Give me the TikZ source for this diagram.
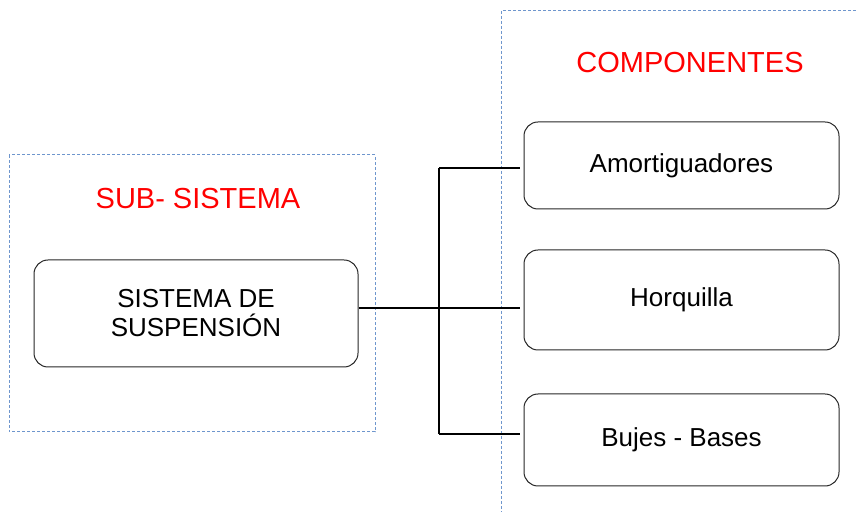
\documentclass[tikz,border=0pt]{standalone}
\usepackage{fontspec}
\setmainfont{Liberation Sans}
\usetikzlibrary{positioning}
\definecolor{framebl}{RGB}{110,150,205}
\definecolor{titlered}{RGB}{255,0,0}

\begin{document}
\begin{tikzpicture}[x=0.5pt, y=-0.5pt,
  box/.style={draw=black!85, rounded corners=7pt, minimum width=157.5pt, line width=0.5pt, align=center, font=\fontsize{13}{14.5}\selectfont},
  frame/.style={draw=framebl, line width=0.5pt, dash pattern=on 1.5pt off 1pt},
  title/.style={text=titlered, font=\fontsize{14.5}{17}\selectfont},
  conn/.style={line width=1pt}
]
\useasboundingbox (0,0) rectangle (856,512);
% dotted frames
\draw[frame] (9,155) rectangle (375,432);
\draw[frame] (856,11) -- (501,11) -- (501,512);
\node[title] (subtitle) at (198,199) {SUB- SISTEMA};
\node[title] (comptitle) at (690,63) {COMPONENTES};
% boxes
\node[box, minimum width=162pt, minimum height=53.5pt] (susp) at (196,313.5) {SISTEMA DE\\SUSPENSIÓN};
\node[box, minimum height=43.5pt] (amort) at (681.5,165.5) {Amortiguadores};
\node[box, minimum height=50pt, below=20pt of amort] (horq) {Horquilla};
\node[box, minimum height=46pt, below=21.5pt of horq] (bujes) {Bujes - Bases};
% connectors
\coordinate (split) at (439,308);
\draw[conn] (susp.east |- split) -- (split);
\draw[conn] ([yshift=-1.2pt]split |- amort.west) -- ([yshift=3pt]split |- bujes.west);
\draw[conn] ([yshift=-1.2pt]split |- amort.west) -- ([xshift=-2pt,yshift=-1.2pt]amort.west);
\draw[conn] (split) -- ([xshift=-2pt]horq.west |- split);
\draw[conn] ([yshift=3pt]split |- bujes.west) -- ([xshift=-2pt,yshift=3pt]bujes.west);
\end{tikzpicture}
\end{document}
